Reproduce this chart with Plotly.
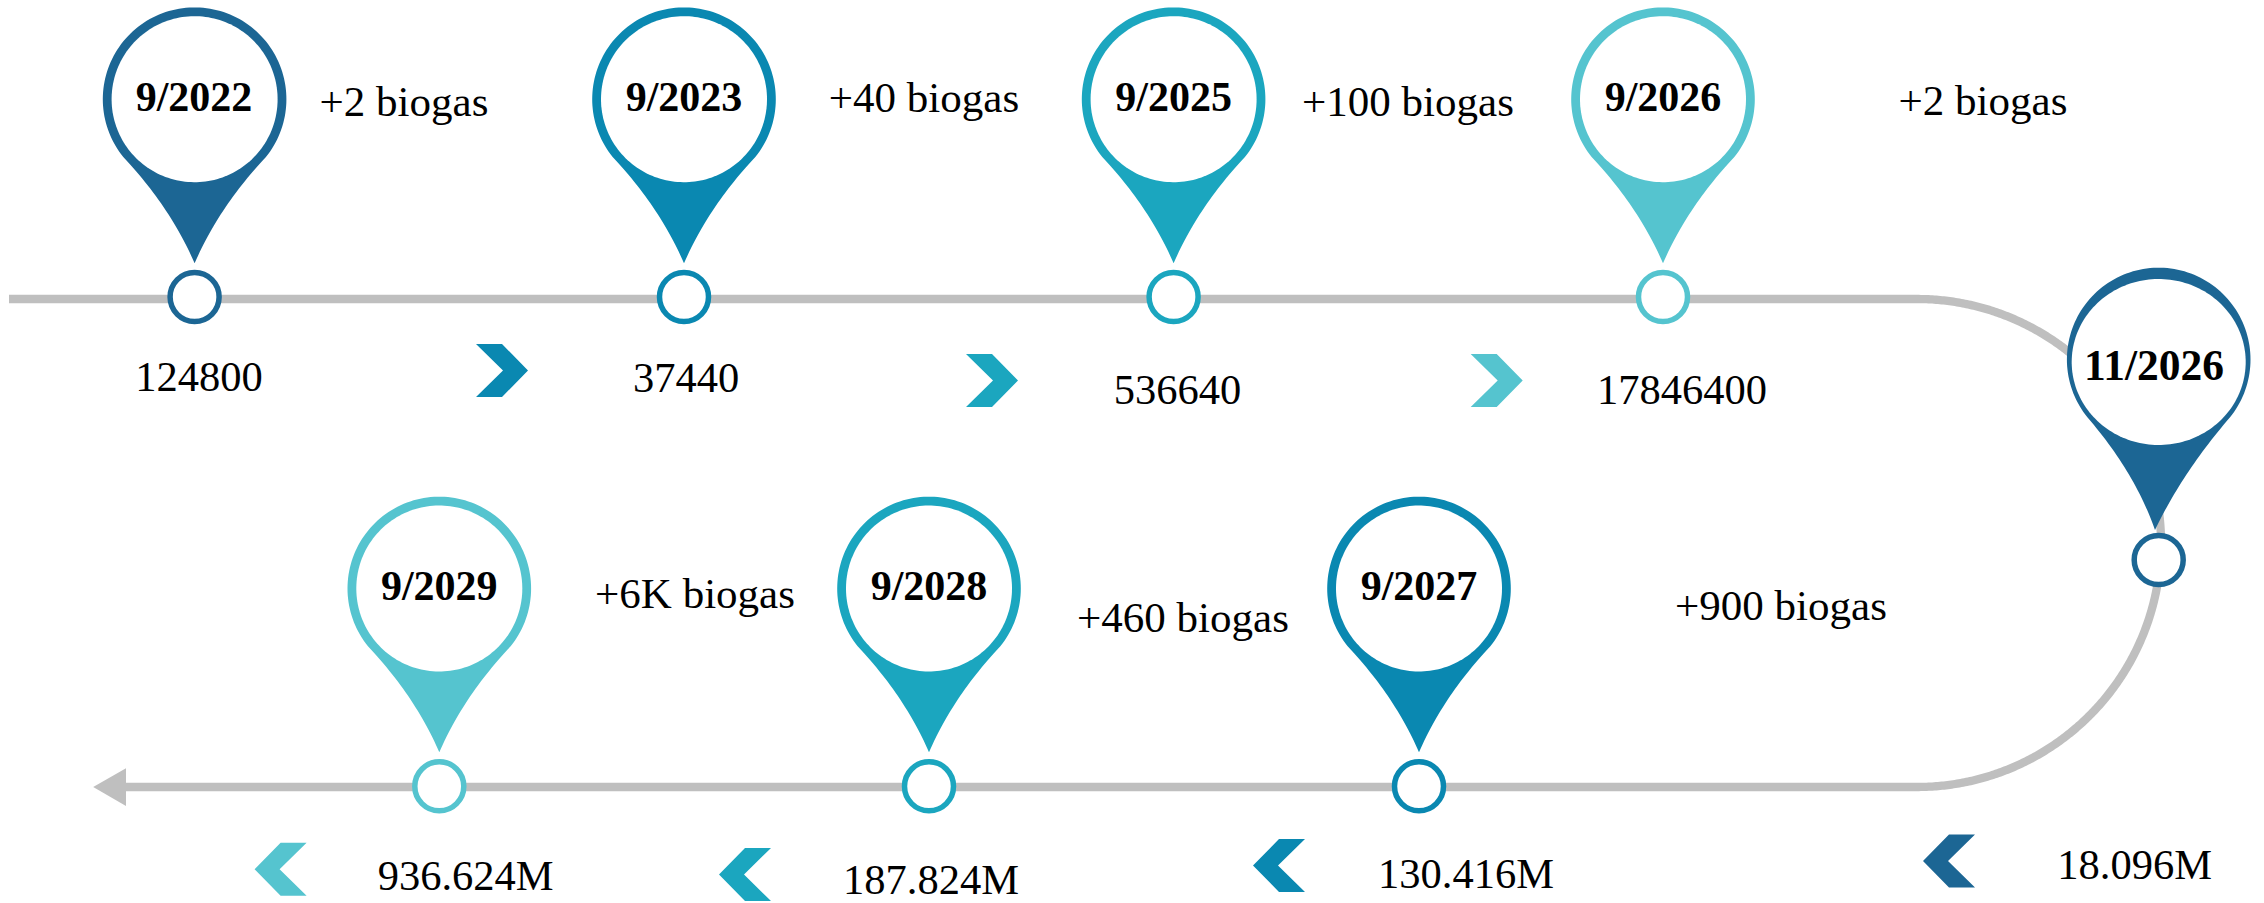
import numpy as np
import plotly.graph_objects as go

# chart content, in timeline order
dates = ["9/2022", "9/2023", "9/2025", "9/2026", "11/2026", "9/2027", "9/2028", "9/2029"]
additions = ["+2 biogas", "+40 biogas", "+100 biogas", "+2 biogas",
             "+900 biogas", "+460 biogas", "+6K biogas"]
totals = ["124800", "37440", "536640", "17846400",
          "18.096M", "130.416M", "187.824M", "936.624M"]

# page layout, in pixels of the 2264x903 canvas
WIDTH = 2264
HEIGHT = 903
stop_x = [194.6, 684, 1173.6, 1663, 2158.7, 1419, 929, 439.3]
stop_y = [297, 297, 297, 297, 560, 786.3, 786.3, 786.3]
pin_y = [99.2, 99.2, 99.2, 99.2, 359.5, 588.5, 588.5, 588.5]
tip_y = [263.3, 263.3, 263.3, 263.3, 530, 752.3, 752.3, 752.3]
pin_colors = ["#1C6694", "#0A88B1", "#1BA6BF", "#55C4CF",
              "#1C6694", "#0A88B1", "#1BA6BF", "#55C4CF"]
date_x = [194, 684, 1173.6, 1663, 2154, 1419, 929, 439.3]
date_y = [100.5, 100.5, 100.5, 100.5, 369.5, 589.5, 589.5, 589.5]
date_size = [42, 42, 42, 42, 43.5, 42, 42, 42]
addition_x = [404, 924, 1408, 1983, 1781, 1183, 695]
addition_y = [105, 101, 105, 104, 609, 621, 597.5]
total_x = [199, 686, 1177.5, 1682, 2134.7, 1466, 931, 465.7]
total_y = [380, 381.5, 393.5, 393, 868.5, 877.5, 883, 879]
chevron_left = [476, 966, 1470.7, 1923, 1253, 719, 254.6]
chevron_top = [344, 354, 354, 834.6, 839, 848, 842.7]
chevron_colors = ["#0A88B1", "#1BA6BF", "#55C4CF", "#1C6694", "#0A88B1", "#1BA6BF", "#55C4CF"]

GREY = "#BFBFBF"
FONT = "Liberation Serif"


def pin_outline(cx, cy, tx, ty, radius=91.8):
    """Teardrop: circle arc over the top, then two bezier flanks down to the tip."""
    side = np.deg2rad(39)
    angles = np.linspace(np.pi + side, -side, 120)
    arc_x = cx + radius * np.cos(angles)
    arc_y = cy - radius * np.sin(angles)
    t = np.linspace(0, 1, 30)
    right_x = (1 - t) ** 2 * arc_x[-1] + 2 * t * (1 - t) * (cx + 24) + t ** 2 * tx
    right_y = (1 - t) ** 2 * arc_y[-1] + 2 * t * (1 - t) * (cy + (ty - cy) * 0.66) + t ** 2 * ty
    left_x = (1 - t) ** 2 * tx + 2 * t * (1 - t) * (cx - 24) + t ** 2 * arc_x[0]
    left_y = (1 - t) ** 2 * ty + 2 * t * (1 - t) * (cy + (ty - cy) * 0.66) + t ** 2 * arc_y[0]
    return (np.concatenate([arc_x, right_x, left_x]),
            np.concatenate([arc_y, right_y, left_y]))


def add_polygon(fig, x, y, color):
    fig.add_trace(go.Scatter(x=x, y=y, mode="lines", fill="toself", fillcolor=color,
                             line=dict(width=0, color=color, simplify=False), hoverinfo="skip"))


fig = go.Figure()

# grey road: straight run, half circle, straight run back
arc_angles = np.linspace(np.pi / 2, -np.pi / 2, 400)
road_x = np.concatenate([[9], 1917 + 244 * np.cos(arc_angles), [120]])
road_y = np.concatenate([[299], 543 - 244 * np.sin(arc_angles), [787]])
fig.add_trace(go.Scatter(x=road_x, y=road_y, mode="lines",
                         line=dict(color=GREY, width=8.3, simplify=False), hoverinfo="skip"))
add_polygon(fig, [93.2, 126, 126], [787, 768.3, 806], GREY)

# map pins
for i, date in enumerate(dates):
    tip_x = 2155 if date == "11/2026" else stop_x[i]
    x, y = pin_outline(stop_x[i], pin_y[i], tip_x, tip_y[i])
    add_polygon(fig, x, y, pin_colors[i])
    angle = np.linspace(0, 2 * np.pi, 180)
    if date == "11/2026":
        hole_x, hole_y = stop_x[i] + 87 * np.cos(angle), pin_y[i] + 2.5 + 83 * np.sin(angle)
    else:
        hole_x, hole_y = stop_x[i] + 83 * np.cos(angle), pin_y[i] + 83 * np.sin(angle)
    add_polygon(fig, hole_x, hole_y, "white")

# stops on the road
fig.add_trace(go.Scatter(x=stop_x, y=stop_y, mode="markers", hoverinfo="skip",
                         marker=dict(size=49, color="white",
                                     line=dict(color=pin_colors, width=5.5))))

# chevrons between the stops, first three point right, the rest left
for i, color in enumerate(chevron_colors):
    x0, y0 = chevron_left[i], chevron_top[i]
    if i < 3:
        cx = [x0, x0 + 26, x0 + 52, x0 + 26, x0, x0 + 27]
    else:
        cx = [x0 + 52, x0 + 26, x0, x0 + 26, x0 + 52, x0 + 25]
    cy = [y0, y0, y0 + 26.5, y0 + 53, y0 + 53, y0 + 26.5]
    add_polygon(fig, cx, cy, color)

# texts
fig.add_trace(go.Scatter(x=date_x, y=date_y, mode="text", text=[f"<b>{d}</b>" for d in dates],
                         textposition="middle center", hoverinfo="skip",
                         textfont=dict(family=FONT, size=date_size, color="black")))
fig.add_trace(go.Scatter(x=addition_x, y=addition_y, mode="text", text=additions,
                         textposition="middle center", hoverinfo="skip",
                         textfont=dict(family=FONT, size=43, color="black")))
fig.add_trace(go.Scatter(x=total_x, y=total_y, mode="text", text=totals,
                         textposition="middle center", hoverinfo="skip",
                         textfont=dict(family=FONT, size=42.5, color="black")))

fig.update_layout(
    width=WIDTH,
    height=HEIGHT,
    margin=dict(l=0, r=0, t=0, b=0),
    showlegend=False,
    plot_bgcolor="white",
    paper_bgcolor="white",
    xaxis=dict(range=[0, WIDTH], visible=False, fixedrange=True),
    yaxis=dict(range=[HEIGHT, 0], visible=False, fixedrange=True),
)

fig.write_html("out.html", config=dict(displayModeBar=False),
               post_script="document.body.style.margin='0';document.body.style.overflow='hidden';")
